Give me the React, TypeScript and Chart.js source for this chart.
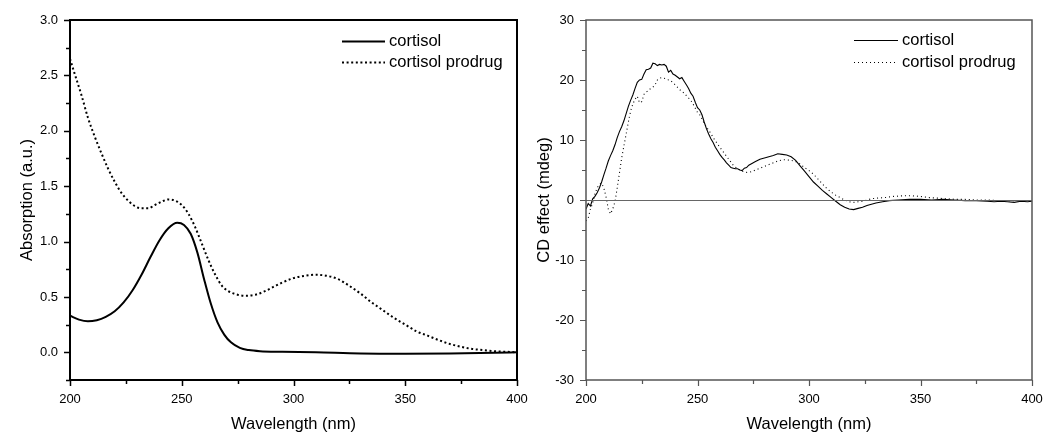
import React, { useEffect, useRef } from "react";
import { Chart, registerables } from "chart.js";

Chart.register(...registerables);

const FONT = '"Liberation Sans", Arial, Helvetica, sans-serif';

// ---------- Data ----------
const seriesLabels = ["cortisol", "cortisol prodrug"];

const xTicks = [200, 250, 300, 350, 400];
const xMinorTicks = [225, 275, 325, 375];

const absYTicks = [0, 0.5, 1.0, 1.5, 2.0, 2.5, 3.0];
const absYMinorTicks = [-0.25, 0.25, 0.75, 1.25, 1.75, 2.25, 2.75];
const cdYTicks = [-30, -20, -10, 0, 10, 20, 30];
const cdYMinorTicks = [-25, -15, -5, 5, 15, 25];

// Absorption: cortisol
const absCortisolWl = [200, 204, 208, 212, 216, 220, 224, 228, 232, 236, 240, 244, 248, 251, 254, 257, 260, 263, 266, 269, 272, 276, 280, 285, 295, 310, 330, 350, 370, 390, 400];
const absCortisolVal = [0.33, 0.295, 0.28, 0.29, 0.32, 0.37, 0.45, 0.56, 0.70, 0.86, 1.01, 1.12, 1.17, 1.15, 1.07, 0.90, 0.66, 0.44, 0.27, 0.16, 0.09, 0.04, 0.02, 0.01, 0.005, 0, -0.01, -0.012, -0.01, -0.005, 0];

// Absorption: cortisol prodrug
const absProdrugWl = [200, 202, 205, 208, 211, 214, 217, 220, 223, 226, 229, 232, 235, 238, 241, 244, 247, 250, 253, 256, 259, 262, 265, 268, 271, 275, 279, 283, 287, 291, 295, 300, 305, 310, 315, 320, 325, 330, 335, 340, 345, 350, 355, 360, 365, 370, 375, 380, 385, 390, 395, 400];
const absProdrugVal = [2.65, 2.52, 2.33, 2.12, 1.95, 1.80, 1.66, 1.54, 1.44, 1.37, 1.32, 1.30, 1.30, 1.33, 1.36, 1.38, 1.37, 1.33, 1.25, 1.13, 0.98, 0.83, 0.70, 0.60, 0.55, 0.52, 0.51, 0.52, 0.55, 0.59, 0.63, 0.67, 0.69, 0.70, 0.69, 0.66, 0.60, 0.53, 0.45, 0.38, 0.31, 0.25, 0.19, 0.15, 0.11, 0.075, 0.05, 0.03, 0.02, 0.01, 0.005, 0.0];

// CD: cortisol
const cdCortisolWl = [
  200, 201, 202, 203, 204, 205, 206, 207, 208, 209, 210, 211, 212, 213, 214, 215, 216, 217, 218, 219,
  220, 221, 222, 223, 224, 225, 226, 227, 228, 229, 230, 231, 232, 233, 234, 235, 236, 237, 238, 239,
  240, 241, 242, 243, 244, 245, 246, 247, 248, 249, 250, 251, 252, 253, 254, 255, 256, 257, 258, 259,
  260, 261, 262, 263, 264, 265, 266, 267, 268, 269, 270, 271, 272, 273, 274, 276, 278, 280, 282, 284,
  286, 288, 290, 292, 294, 296, 298, 300, 302, 304, 306, 308, 310, 312, 314, 316, 318, 320, 322, 324,
  326, 328, 330, 333, 336, 340, 345, 350, 355, 360, 365, 370, 375, 380, 383, 386, 389, 392, 395, 398, 400,
];
const cdCortisolVal = [
  -1.5, -0.6, -1.0, 0.2, 0.6, 1.2, 2.0, 3.0, 4.2, 5.3, 6.5, 7.4, 8.2, 9.2, 10.4, 11.4, 12.2, 13.2, 14.4, 15.6,
  16.6, 17.5, 18.6, 19.6, 20.0, 20.1, 21.0, 21.7, 21.8, 22.0, 22.8, 22.7, 22.4, 22.6, 22.5, 22.6, 22.3, 21.3, 21.6, 21.0,
  20.8, 20.5, 20.2, 20.4, 19.8, 19.2, 18.6, 17.8, 17.3, 16.3, 15.4, 15.0, 14.2, 13.0, 11.9, 11.0, 10.2, 9.6, 8.8, 8.2,
  7.6, 7.1, 6.7, 6.2, 5.8, 5.4, 5.3, 5.2, 5.2, 5.0, 4.9, 5.3, 5.4, 5.8, 6.0, 6.4, 6.8, 7.0, 7.2, 7.4,
  7.7, 7.6, 7.5, 7.2, 6.6, 5.7, 4.8, 3.9, 3.0, 2.3, 1.6, 1.0, 0.4, -0.2, -0.8, -1.2, -1.5, -1.6, -1.4, -1.2,
  -0.9, -0.7, -0.5, -0.3, -0.1, 0.0, 0.1, 0.1, 0.0, 0.1, 0.0, -0.1, -0.1, -0.2, -0.3, -0.2, -0.3, -0.4, -0.2, -0.3, -0.2,
];

// CD: cortisol prodrug
const cdProdrugWl = [
  200, 201, 202, 203, 204, 205, 206, 207, 208, 209, 210, 211, 212, 213, 214, 215, 216, 217, 218, 219,
  220, 221, 222, 223, 224, 225, 226, 227, 228, 229, 230, 231, 232, 233, 234, 235, 236, 237, 238, 239,
  240, 241, 242, 243, 244, 245, 246, 247, 248, 249, 250, 251, 252, 253, 254, 255, 256, 257, 258, 259,
  260, 262, 264, 266, 268, 270, 272, 274, 276, 278, 280, 282, 284, 286, 288, 290, 292, 294, 296, 298,
  300, 302, 304, 306, 308, 310, 312, 314, 316, 318, 320, 322, 324, 326, 328, 330, 334, 338, 342, 346,
  350, 354, 358, 362, 366, 370, 375, 380, 385, 390, 395, 400,
];
const cdProdrugVal = [
  -3.5, -3.0, -1.5, -0.5, 1.0, 2.0, 2.6, 2.8, 2.0, 0.5, -1.5, -2.3, -1.5, -0.3, 2.0, 4.5, 7.0, 9.0, 11.0, 13.0,
  14.8, 16.0, 16.8, 17.3, 16.2, 16.4, 17.6, 18.0, 18.2, 18.6, 18.8, 19.2, 20.0, 20.3, 20.4, 20.3, 20.2, 20.0, 19.9, 19.5,
  19.2, 18.8, 18.4, 18.1, 17.8, 17.4, 17.0, 16.6, 16.0, 15.3, 14.6, 14.2, 13.5, 12.8, 12.2, 11.6, 11.1, 10.4, 9.9, 9.3,
  8.8, 7.8, 6.8, 5.8, 5.2, 4.8, 4.6, 4.7, 5.0, 5.3, 5.6, 5.9, 6.2, 6.5, 6.7, 6.7, 6.6, 6.4, 6.0, 5.4,
  4.9, 4.3, 3.5, 2.7, 1.9, 1.3, 0.8, 0.4, 0.0, -0.3, -0.4, -0.3, -0.2, 0.0, 0.2, 0.3, 0.4, 0.6, 0.7, 0.7,
  0.6, 0.4, 0.3, 0.2, 0.1, 0.1, 0.0, 0.0, -0.1, -0.1, -0.1, -0.1,
];

const toPoints = (xs: number[], ys: number[]) => xs.map((x, i) => ({ x, y: ys[i] }));

// ---------- Plugins ----------
type FrameOpts = {
  color: string;
  width: number;
  tickWidth: number;
  yMajor: number[];
  yMinor: number[];
  zeroLine?: boolean;
  zeroColor?: string;
};

const framePlugin = {
  id: "frameTicks",
  afterDatasetsDraw(chart: any, _args: any, opts: FrameOpts) {
    const { ctx, chartArea: a, scales } = chart;
    const xs = scales.x;
    const ys = scales.y;
    ctx.save();
    if (opts.zeroLine) {
      const y0 = Math.round(ys.getPixelForValue(0)) + 0.5;
      ctx.strokeStyle = opts.zeroColor || "#666";
      ctx.lineWidth = 1;
      ctx.beginPath();
      ctx.moveTo(a.left, y0);
      ctx.lineTo(a.right, y0);
      ctx.stroke();
    }
    ctx.strokeStyle = opts.color;
    ctx.lineWidth = opts.width;
    ctx.strokeRect(a.left, a.top, a.right - a.left, a.bottom - a.top);
    ctx.lineWidth = opts.tickWidth;
    ctx.beginPath();
    const drawX = (v: number, len: number) => {
      const px = Math.round(xs.getPixelForValue(v)) + 0.5;
      ctx.moveTo(px, a.bottom);
      ctx.lineTo(px, a.bottom + len);
    };
    const drawY = (v: number, len: number) => {
      const py = Math.round(ys.getPixelForValue(v)) + 0.5;
      ctx.moveTo(a.left, py);
      ctx.lineTo(a.left - len, py);
    };
    xTicks.forEach((v) => drawX(v, 6));
    xMinorTicks.forEach((v) => drawX(v, 4));
    opts.yMajor.forEach((v) => drawY(v, 6));
    opts.yMinor.forEach((v) => drawY(v, 4));
    ctx.stroke();
    ctx.restore();
  },
};

type LegendOpts = { x: number; y: number; gap: number; lineLen: number; color: string; size: number };

const legendPlugin = {
  id: "customLegend",
  afterDraw(chart: any, _args: any, opts: LegendOpts) {
    const { ctx } = chart;
    ctx.save();
    ctx.font = `${opts.size}px ${FONT}`;
    ctx.textBaseline = "middle";
    ctx.textAlign = "left";
    chart.data.datasets.forEach((ds: any, i: number) => {
      const y = opts.y + i * opts.gap;
      ctx.strokeStyle = ds.borderColor;
      ctx.lineWidth = ds.borderWidth;
      ctx.setLineDash(ds.borderDash || []);
      ctx.beginPath();
      ctx.moveTo(opts.x, y + 0.5);
      ctx.lineTo(opts.x + opts.lineLen, y + 0.5);
      ctx.stroke();
      ctx.setLineDash([]);
      ctx.fillStyle = opts.color;
      ctx.fillText(ds.label, opts.x + opts.lineLen + 4, y);
    });
    ctx.restore();
  },
};

// ---------- Chart builder ----------
function makeConfig(p: {
  datasets: any[];
  yMin: number;
  yMax: number;
  yTicks: number[];
  yMinor: number[];
  yTitle: string;
  yTitlePad: number;
  yAxisWidth: number;
  yLabelPad: number;
  padRight: number;
  fmt: (v: number) => string;
  frame: Partial<FrameOpts>;
  legend: LegendOpts;
}) {
  return {
    type: "line",
    data: { datasets: p.datasets },
    plugins: [framePlugin, legendPlugin],
    options: {
      animation: false,
      responsive: false,
      events: [],
      layout: { padding: { top: 20, right: p.padRight, left: 0, bottom: 0 } },
      elements: { point: { radius: 0 } },
      plugins: {
        legend: { display: false },
        tooltip: { enabled: false },
        frameTicks: { yMajor: p.yTicks, yMinor: p.yMinor, ...p.frame },
        customLegend: p.legend,
      },
      scales: {
        x: {
          type: "linear",
          min: 200,
          max: 400,
          grid: { display: false, drawTicks: false },
          border: { display: false },
          afterBuildTicks: (s: any) => {
            s.ticks = xTicks.map((v) => ({ value: v }));
          },
          afterFit: (s: any) => {
            s.height = 54;
            s.paddingLeft = 0;
            s.paddingRight = 0;
          },
          ticks: {
            color: "#000",
            font: { size: 13, family: FONT },
            padding: 12,
            maxRotation: 0,
            autoSkip: false,
            callback: (v: number) => String(v),
          },
          title: {
            display: true,
            text: "Wavelength (nm)",
            color: "#000",
            font: { size: 16.5, family: FONT },
            padding: { top: 0, bottom: 0 },
          },
        },
        y: {
          type: "linear",
          min: p.yMin,
          max: p.yMax,
          grid: { display: false, drawTicks: false },
          border: { display: false },
          afterBuildTicks: (s: any) => {
            s.ticks = p.yTicks.map((v) => ({ value: v }));
          },
          afterFit: (s: any) => {
            s.width = p.yAxisWidth;
            s.paddingTop = 0;
            s.paddingBottom = 0;
          },
          ticks: {
            color: "#000",
            font: { size: 13, family: FONT },
            padding: p.yLabelPad,
            autoSkip: false,
            callback: (v: number) => p.fmt(v),
          },
          title: {
            display: true,
            text: p.yTitle,
            color: "#000",
            font: { size: 16.5, family: FONT },
            padding: { top: p.yTitlePad, bottom: 0 },
          },
        },
      },
    },
  };
}

export default function App() {
  const leftRef = useRef<HTMLCanvasElement | null>(null);
  const rightRef = useRef<HTMLCanvasElement | null>(null);

  useEffect(() => {
    Chart.defaults.font.family = FONT;
    const left = new Chart(
      leftRef.current as HTMLCanvasElement,
      makeConfig({
        datasets: [
          {
            label: seriesLabels[0],
            data: toPoints(absCortisolWl, absCortisolVal),
            borderColor: "#000",
            borderWidth: 2,
            cubicInterpolationMode: "monotone",
            fill: false,
          },
          {
            label: seriesLabels[1],
            data: toPoints(absProdrugWl, absProdrugVal),
            borderColor: "#000",
            borderWidth: 2,
            borderDash: [2, 2.6],
            cubicInterpolationMode: "monotone",
            fill: false,
          },
        ],
        yMin: -0.25,
        yMax: 3.0,
        yTicks: absYTicks,
        yMinor: absYMinorTicks,
        yTitle: "Absorption (a.u.)",
        yTitlePad: 18,
        yAxisWidth: 70,
        yLabelPad: 12,
        padRight: 13,
        fmt: (v) => v.toFixed(1),
        frame: { color: "#000", width: 2, tickWidth: 1.5 },
        legend: { x: 342, y: 41, gap: 21, lineLen: 43, color: "#000", size: 16.5 },
      }) as any
    );
    const right = new Chart(
      rightRef.current as HTMLCanvasElement,
      makeConfig({
        datasets: [
          {
            label: seriesLabels[0],
            data: toPoints(cdCortisolWl, cdCortisolVal),
            borderColor: "#000",
            borderWidth: 1.1,
            tension: 0,
            fill: false,
          },
          {
            label: seriesLabels[1],
            data: toPoints(cdProdrugWl, cdProdrugVal),
            borderColor: "#000",
            borderWidth: 1.1,
            borderDash: [1, 3],
            tension: 0,
            fill: false,
          },
        ],
        yMin: -30,
        yMax: 30,
        yTicks: cdYTicks,
        yMinor: cdYMinorTicks,
        yTitle: "CD effect (mdeg)",
        yTitlePad: 5,
        yAxisWidth: 56,
        yLabelPad: 12,
        padRight: 11,
        fmt: (v) => String(v),
        frame: { color: "#555", width: 1.5, tickWidth: 1.2, zeroLine: true, zeroColor: "#666" },
        legend: { x: 324, y: 40, gap: 22, lineLen: 44, color: "#000", size: 16.5 },
      }) as any
    );
    return () => {
      left.destroy();
      right.destroy();
    };
  }, []);

  return (
    <div
      style={{
        position: "fixed",
        left: 0,
        top: 0,
        width: 1043,
        height: 434,
        background: "#fff",
        overflow: "hidden",
      }}
    >
      <canvas
        ref={leftRef}
        width={530}
        height={434}
        style={{ position: "absolute", left: 0, top: 0, width: 530, height: 434 }}
      />
      <canvas
        ref={rightRef}
        width={513}
        height={434}
        style={{ position: "absolute", left: 530, top: 0, width: 513, height: 434 }}
      />
    </div>
  );
}
